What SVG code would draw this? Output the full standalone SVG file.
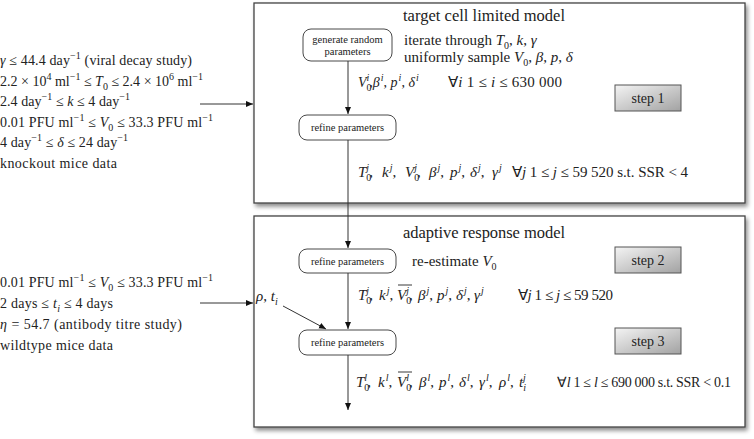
<svg xmlns="http://www.w3.org/2000/svg" width="754" height="439" viewBox="0 0 754 439">
<defs>
<style>
text{font-family:"Liberation Serif","Times New Roman",serif;fill:#222}
.t{font-size:14px}
.m{font-size:15px}
.h{font-size:16.5px}
.s{font-size:10.5px}
.st{font-size:14px}
.i{font-style:italic}
.sup{font-size:10px;baseline-shift:6px}
.sub{font-size:10px;baseline-shift:-4px}
.conn line{stroke:#333;stroke-width:1}
.panel{fill:#fff;stroke:#444;stroke-width:1.3}
.rbox{fill:#fff;stroke:#333;stroke-width:0.9}
.step{fill:url(#g);stroke:#555;stroke-width:1}
.bar{stroke:#222;stroke-width:0.9}
</style>
<linearGradient id="g" x1="0" y1="0" x2="1" y2="1">
<stop offset="0" stop-color="#f4f4f4"/>
<stop offset="1" stop-color="#a2a2a2"/>
</linearGradient>
<filter id="sh" x="-5%" y="-5%" width="112%" height="115%">
<feDropShadow dx="2" dy="3" stdDeviation="2" flood-color="#000" flood-opacity="0.45"/>
</filter>
<marker id="a" markerWidth="8" markerHeight="8" refX="7" refY="4" orient="auto" markerUnits="userSpaceOnUse">
<path d="M0,1 L7,4 L0,7 Z" fill="#111"/>
</marker>
</defs>
<rect width="754" height="439" fill="#fff"/>

<g id="inputs1" class="t">
<text x="0" y="65" textLength="192" lengthAdjust="spacing"><tspan class="i">γ</tspan> ≤ 44.4 day<tspan class="sup">−1</tspan> (viral decay study)</text>
<text x="0" y="86" textLength="203" lengthAdjust="spacing">2.2 × 10<tspan class="sup">4</tspan> ml<tspan class="sup">−1</tspan> ≤ <tspan class="i">T</tspan><tspan class="sub">0</tspan> ≤ 2.4 × 10<tspan class="sup">6</tspan> ml<tspan class="sup">−1</tspan></text>
<text x="0" y="106" textLength="130" lengthAdjust="spacing">2.4 day<tspan class="sup">−1</tspan> ≤ <tspan class="i">k</tspan> ≤ 4 day<tspan class="sup">−1</tspan></text>
<text x="0" y="127" textLength="213" lengthAdjust="spacing">0.01 PFU ml<tspan class="sup">−1</tspan> ≤ <tspan class="i">V</tspan><tspan class="sub">0</tspan> ≤ 33.3 PFU ml<tspan class="sup">−1</tspan></text>
<text x="0" y="147" textLength="128" lengthAdjust="spacing">4 day<tspan class="sup">−1</tspan> ≤ <tspan class="i">δ</tspan> ≤ 24 day<tspan class="sup">−1</tspan></text>
<text x="0" y="168" textLength="117" lengthAdjust="spacing">knockout mice data</text>
</g>

<g id="inputs2" class="t">
<text x="0" y="287" textLength="213" lengthAdjust="spacing">0.01 PFU ml<tspan class="sup">−1</tspan> ≤ <tspan class="i">V</tspan><tspan class="sub">0</tspan> ≤ 33.3 PFU ml<tspan class="sup">−1</tspan></text>
<text x="0" y="308" textLength="113" lengthAdjust="spacing">2  days ≤ <tspan class="i">t</tspan><tspan class="sub i">i</tspan> ≤ 4 days</text>
<text x="0" y="329" textLength="182" lengthAdjust="spacing"><tspan class="i">η</tspan> = 54.7 (antibody titre study)</text>
<text x="0" y="350" textLength="113" lengthAdjust="spacing">wildtype mice data</text>
</g>

<g id="model1">
<rect class="panel" x="254" y="3" width="491" height="200" filter="url(#sh)"/>
<text class="h" x="403" y="21" textLength="162" lengthAdjust="spacing">target cell limited model</text>
<text class="m" x="404" y="45">iterate through <tspan class="i">T</tspan><tspan class="sub">0</tspan>, <tspan class="i">k</tspan>, <tspan class="i">γ</tspan></text>
<text class="m" x="404" y="62">uniformly sample <tspan class="i">V</tspan><tspan class="sub">0</tspan>, <tspan class="i">β</tspan>, <tspan class="i">p</tspan>, <tspan class="i">δ</tspan></text>
<text class="t" x="358" y="87"><tspan class="i">V</tspan><tspan class="sub">0</tspan><tspan class="sup i" dx="-5">i</tspan>,<tspan class="i">β</tspan><tspan class="sup i" dx="1">i</tspan>, <tspan class="i">p</tspan><tspan class="sup i" dx="1">i</tspan>, <tspan class="i">δ</tspan><tspan class="sup i" dx="1">i</tspan></text>
<text class="m" x="448" y="87" textLength="114" lengthAdjust="spacing">∀<tspan class="i">i</tspan> 1 ≤ <tspan class="i">i</tspan> ≤ 630 000</text>
<text class="m" y="177"><tspan class="i" x="358">T</tspan><tspan class="sub">0</tspan><tspan class="sup i" dx="-5">j</tspan>,<tspan class="i" x="382">k</tspan><tspan class="sup i" dx="1">j</tspan>,<tspan class="i" x="405">V</tspan><tspan class="sub">0</tspan><tspan class="sup i" dx="-5">j</tspan>,<tspan class="i" x="429">β</tspan><tspan class="sup i" dx="1">j</tspan>,<tspan class="i" x="450">p</tspan><tspan class="sup i" dx="1">j</tspan>,<tspan class="i" x="470">δ</tspan><tspan class="sup i" dx="1">j</tspan>,<tspan class="i" x="492">γ</tspan><tspan class="sup i" dx="1">j</tspan></text>
<text class="m" x="512" y="177" textLength="176" lengthAdjust="spacing">∀<tspan class="i">j</tspan> 1 ≤ <tspan class="i">j</tspan> ≤ 59 520 s.t. SSR &lt; 4</text>
</g>

<g id="model2">
<rect class="panel" x="254" y="216" width="491" height="211" filter="url(#sh)"/>
<text class="h" x="403" y="238" textLength="162" lengthAdjust="spacing">adaptive response model</text>
<text class="m" x="412" y="266">re-estimate <tspan class="i">V</tspan><tspan class="sub">0</tspan></text>
<text class="m" y="300"><tspan class="i" x="358">T</tspan><tspan class="sub">0</tspan><tspan class="sup i" dx="-5">j</tspan>,<tspan class="i" x="379">k</tspan><tspan class="sup i" dx="1">j</tspan>,<tspan class="i" x="397">V</tspan><tspan class="sub">0</tspan><tspan class="sup i" dx="-5">j</tspan>,<tspan class="i" x="418">β</tspan><tspan class="sup i" dx="1">j</tspan>,<tspan class="i" x="437">p</tspan><tspan class="sup i" dx="1">j</tspan>,<tspan class="i" x="456">δ</tspan><tspan class="sup i" dx="1">j</tspan>,<tspan class="i" x="474">γ</tspan><tspan class="sup i" dx="1">j</tspan></text>
<line class="bar" x1="398" y1="285" x2="412" y2="285"/>
<text class="m" x="518" y="300" textLength="95" lengthAdjust="spacing">∀<tspan class="i">j</tspan> 1 ≤ <tspan class="i">j</tspan> ≤ 59 520</text>
<text class="m" y="387"><tspan class="i" x="356">T</tspan><tspan class="sub">0</tspan><tspan class="sup i" dx="-5">l</tspan>,<tspan class="i" x="378">k</tspan><tspan class="sup i" dx="1">l</tspan>,<tspan class="i" x="397">V</tspan><tspan class="sub">0</tspan><tspan class="sup i" dx="-5">l</tspan>,<tspan class="i" x="419">β</tspan><tspan class="sup i" dx="1">l</tspan>,<tspan class="i" x="439">p</tspan><tspan class="sup i" dx="1">l</tspan>,<tspan class="i" x="459">δ</tspan><tspan class="sup i" dx="1">l</tspan>,<tspan class="i" x="479">γ</tspan><tspan class="sup i" dx="1">l</tspan>,<tspan class="i" x="499">ρ</tspan><tspan class="sup i" dx="1">l</tspan>,<tspan class="i" x="519">t</tspan><tspan class="sub i">i</tspan><tspan class="sup i" dx="-3">j</tspan></text>
<line class="bar" x1="398" y1="372" x2="412" y2="372"/>
<text class="t" x="557" y="387" textLength="174" lengthAdjust="spacing">∀<tspan class="i">l</tspan> 1 ≤ <tspan class="i">l</tspan> ≤ 690 000 s.t. SSR &lt; 0.1</text>
<text class="m" x="256" y="301"><tspan class="i">ρ</tspan>, <tspan class="i">t</tspan><tspan class="sub i">i</tspan></text>
</g>

<g id="gen">
<rect class="rbox" x="303" y="29" width="89" height="32" rx="8"/>
<text class="s" x="347.5" y="43" text-anchor="middle">generate random</text>
<text class="s" x="347.5" y="55" text-anchor="middle">parameters</text>
</g>
<g id="refine1">
<rect class="rbox" x="299" y="115" width="97" height="25" rx="8"/>
<text class="s" x="347.5" y="131" text-anchor="middle">refine parameters</text>
</g>
<g id="refine2">
<rect class="rbox" x="299" y="249" width="97" height="24" rx="8"/>
<text class="s" x="347.5" y="265" text-anchor="middle">refine parameters</text>
</g>
<g id="refine3">
<rect class="rbox" x="299" y="330" width="97" height="25" rx="8"/>
<text class="s" x="347.5" y="346" text-anchor="middle">refine parameters</text>
</g>
<g id="step1">
<rect class="step" x="615" y="85" width="66" height="26"/>
<text class="st" x="648" y="103" text-anchor="middle">step 1</text>
</g>
<g id="step2">
<rect class="step" x="615" y="247" width="66" height="26"/>
<text class="st" x="648" y="265" text-anchor="middle">step 2</text>
</g>
<g id="step3">
<rect class="step" x="615" y="328" width="66" height="26"/>
<text class="st" x="648" y="346" text-anchor="middle">step 3</text>
</g>

<g id="connectors" class="conn">
<line x1="348" y1="61" x2="348" y2="114" marker-end="url(#a)"/>
<line x1="348" y1="140" x2="348" y2="248" marker-end="url(#a)"/>
<line x1="348" y1="273" x2="348" y2="329" marker-end="url(#a)"/>
<line x1="348" y1="355" x2="348" y2="410" marker-end="url(#a)"/>
<line x1="200" y1="104" x2="253" y2="104" marker-end="url(#a)"/>
<line x1="200" y1="303" x2="253" y2="303" marker-end="url(#a)"/>
<line x1="283" y1="306" x2="326" y2="329" marker-end="url(#a)"/>
</g>
</svg>
